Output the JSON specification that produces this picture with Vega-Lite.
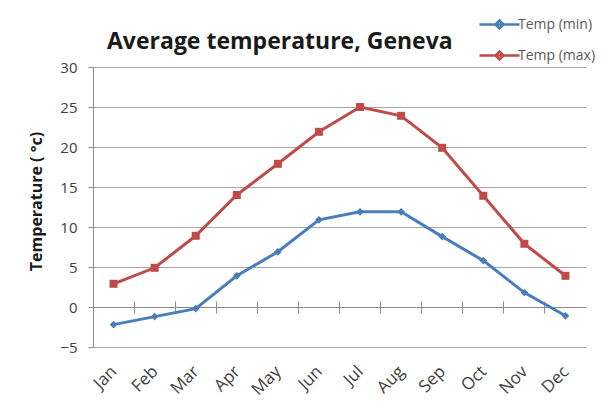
{
  "$schema": "https://vega.github.io/schema/vega-lite/v6.json",
  "width": 493,
  "height": 280,
  "autosize": {"type": "none"},
  "padding": {"left": 93, "top": 67, "right": 16, "bottom": 59},
  "background": "white",
  "config": {
    "view": {"stroke": null},
    "font": "Open Sans"
  },
  "title": {
    "text": "Average temperature, Geneva",
    "anchor": "start",
    "frame": "group",
    "dx": 14,
    "dy": 69,
    "offset": 0,
    "baseline": "alphabetic",
    "fontSize": 23,
    "fontWeight": "bold",
    "font": "Open Sans",
    "color": "#1a1a1a"
  },
  "data": {
    "values": [
      {"month": "Jan", "series": "Temp (min)", "temp": -2.2},
      {"month": "Feb", "series": "Temp (min)", "temp": -1.2},
      {"month": "Mar", "series": "Temp (min)", "temp": -0.2},
      {"month": "Apr", "series": "Temp (min)", "temp": 3.9},
      {"month": "May", "series": "Temp (min)", "temp": 6.9},
      {"month": "Jun", "series": "Temp (min)", "temp": 10.9},
      {"month": "Jul", "series": "Temp (min)", "temp": 11.9},
      {"month": "Aug", "series": "Temp (min)", "temp": 11.9},
      {"month": "Sep", "series": "Temp (min)", "temp": 8.8},
      {"month": "Oct", "series": "Temp (min)", "temp": 5.8},
      {"month": "Nov", "series": "Temp (min)", "temp": 1.8},
      {"month": "Dec", "series": "Temp (min)", "temp": -1.1},
      {"month": "Jan", "series": "Temp (max)", "temp": 2.9},
      {"month": "Feb", "series": "Temp (max)", "temp": 4.9},
      {"month": "Mar", "series": "Temp (max)", "temp": 8.9},
      {"month": "Apr", "series": "Temp (max)", "temp": 14},
      {"month": "May", "series": "Temp (max)", "temp": 17.9},
      {"month": "Jun", "series": "Temp (max)", "temp": 21.9},
      {"month": "Jul", "series": "Temp (max)", "temp": 25},
      {"month": "Aug", "series": "Temp (max)", "temp": 23.9},
      {"month": "Sep", "series": "Temp (max)", "temp": 19.9},
      {"month": "Oct", "series": "Temp (max)", "temp": 13.9},
      {"month": "Nov", "series": "Temp (max)", "temp": 7.9},
      {"month": "Dec", "series": "Temp (max)", "temp": 3.9}
    ]
  },
  "encoding": {
    "y": {
      "field": "temp", "type": "quantitative",
      "scale": {"domain": [-5, 30], "nice": false, "zero": false},
      "axis": {
        "title": "Temperature ( °c)", "titleFontSize": 16, "titleFontWeight": "bold",
        "titleColor": "#1a1a1a", "titleFont": "Open Sans", "titlePadding": 15, "titleY": 134,
        "values": [-5, 0, 5, 10, 15, 20, 25, 30], "labelOverlap": false,
        "labelFontSize": 15, "labelColor": "#404040", "labelPadding": 11, "labelFont": "Open Sans",
        "tickSize": 5, "tickColor": "#8c8c8c", "domainColor": "#8c8c8c",
        "gridColor": "#a6a6a6", "gridWidth": 1
      }
    }
  },
  "resolve": {"axis": {"x": "independent"}},
  "layer": [
    {
      "mark": {"type": "line", "strokeWidth": 3},
      "encoding": {
        "x": {
          "field": "month", "type": "ordinal",
          "sort": ["Jan","Feb","Mar","Apr","May","Jun","Jul","Aug","Sep","Oct","Nov","Dec"],
          "scale": {"type": "band", "paddingInner": 0, "paddingOuter": 0},
          "axis": {
            "orient": "bottom", "title": null, "domain": false, "ticks": false, "grid": false,
            "labelAngle": -45, "labelFontSize": 17, "labelColor": "#404040", "labelPadding": 16,
            "labelOffset": -5, "labelFont": "Open Sans", "labelAlign": "right", "labelBaseline": "top"
          }
        },
        "color": {
          "field": "series", "type": "nominal",
          "sort": ["Temp (min)", "Temp (max)"],
          "scale": {"domain": ["Temp (min)", "Temp (max)"], "range": ["#4a7ebb", "#be4b48"]},
          "legend": {
            "title": null, "orient": "none", "legendX": 385, "legendY": -64,
            "symbolType": "M-1,0H1M0,-0.2L0.2,0L0,0.2L-0.2,0Z",
            "symbolSize": 1600, "symbolStrokeWidth": 2.5,
            "labelFontSize": 14, "labelColor": "#595959", "labelFont": "Open Sans",
            "labelOffset": -3, "rowPadding": -5
          }
        }
      }
    },
    {
      "transform": [{"filter": "datum.series === 'Temp (min)'"}],
      "mark": {"type": "point", "filled": true, "size": 60, "opacity": 1, "shape": "diamond", "color": "#4a7ebb"},
      "encoding": {
        "x": {
          "field": "month", "type": "ordinal",
          "sort": ["Jan","Feb","Mar","Apr","May","Jun","Jul","Aug","Sep","Oct","Nov","Dec"],
          "axis": {
            "orient": "bottom", "offset": -40, "title": null, "labels": false, "grid": false,
            "bandPosition": 0, "tickSize": 6, "tickColor": "#8c8c8c", "domainColor": "#8c8c8c"
          }
        }
      }
    },
    {
      "transform": [{"filter": "datum.series === 'Temp (max)'"}],
      "mark": {"type": "point", "filled": true, "size": 64, "opacity": 1, "shape": "square", "color": "#be4b48"},
      "encoding": {
        "x": {
          "field": "month", "type": "ordinal",
          "sort": ["Jan","Feb","Mar","Apr","May","Jun","Jul","Aug","Sep","Oct","Nov","Dec"],
          "axis": {
            "orient": "top", "offset": -240, "title": null, "labels": false, "grid": false,
            "domain": false, "bandPosition": 0, "tickSize": 6, "tickColor": "#8c8c8c"
          }
        }
      }
    }
  ]
}
